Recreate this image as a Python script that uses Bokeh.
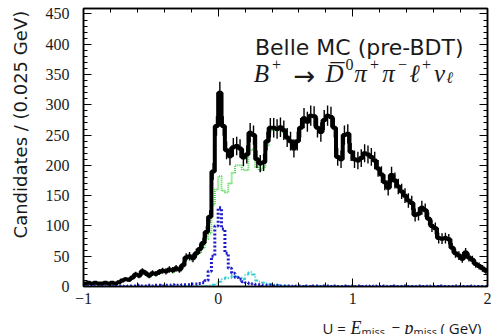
import numpy as np
from bokeh.plotting import figure
from bokeh.layouts import column
from bokeh.models import Range1d, FixedTicker, LinearAxis, Label
from bokeh.embed import file_html
from bokeh.resources import INLINE

# ---------------- data ----------------
U_MIN, U_MAX, BIN_W = -1.0, 2.0, 0.025

total_counts = [5, 6, 5, 6, 5, 5, 6, 5, 6, 5,
                7, 10, 12, 11, 15, 20, 18, 25, 22, 18,
                22, 21, 24, 26, 25, 28, 27, 30, 28, 35,
                48, 50, 47, 55, 62, 72, 90, 115, 190, 265,
                320, 265, 225, 215, 230, 232, 228, 213, 218, 254,
                250, 210, 203, 205, 240, 262, 262, 260, 263, 258,
                246, 240, 228, 240, 262, 278, 272, 282, 281, 262,
                255, 275, 282, 280, 262, 214, 210, 250, 252, 222,
                210, 208, 212, 220, 218, 214, 208, 195, 185, 172,
                163, 184, 175, 165, 157, 150, 142, 138, 118, 120,
                130, 126, 112, 100, 96, 80, 79, 80, 78, 64,
                55, 51, 46, 56, 48, 44, 37, 34, 30, 26]

green_counts = [4, 5, 5, 5, 4, 5, 5, 4, 5, 4,
                6, 9, 11, 10, 14, 19, 16, 24, 21, 16,
                21, 19, 22, 25, 23, 26, 24, 28, 26, 32,
                45, 47, 43, 51, 56, 64, 78, 88, 135, 160,
                182, 158, 155, 170, 188, 200, 200, 193, 192, 225,
                226, 197, 192, 197, 233, 256, 259, 258, 262, 256,
                244, 239, 226, 239, 261, 277, 271, 281, 280, 261,
                254, 274, 281, 279, 261, 213, 209, 249, 251, 221,
                209, 207, 211, 219, 217, 213, 207, 194, 184, 171,
                162, 183, 174, 164, 156, 149, 141, 137, 117, 119,
                129, 125, 111, 99, 95, 79, 78, 79, 77, 63,
                54, 50, 45, 55, 47, 43, 36, 33, 29, 25]

blue_counts = [0, 1, 0, 1, 1, 0, 1, 1, 0, 1,
               1, 1, 0, 1, 1, 1, 2, 1, 1, 2,
               1, 2, 2, 1, 2, 2, 3, 2, 2, 3,
               3, 3, 4, 4, 5, 6, 10, 25, 50, 100,
               130, 95, 55, 30, 22, 15, 12, 8, 6, 5,
               4, 3, 3, 2, 2, 2, 1, 2, 1, 1,
               1, 1, 0, 1, 1, 0, 1, 0, 1, 1,
               0, 1, 1, 0, 1, 0, 0, 1, 0, 1,
               0, 1, 0, 0, 1, 0, 1, 0, 0, 1,
               0, 0, 1, 0, 0, 1, 0, 0, 0, 1,
               0, 0, 1, 0, 0, 0, 1, 0, 0, 0,
               1, 0, 0, 0, 0, 1, 0, 0, 0, 0]

cyan_counts = [0, 0, 0, 0, 0, 0, 0, 0, 0, 0,
               0, 0, 0, 0, 0, 0, 0, 0, 0, 0,
               0, 0, 0, 0, 1, 0, 0, 0, 1, 0,
               0, 1, 0, 1, 0, 1, 1, 2, 3, 5,
               8, 12, 15, 14, 18, 16, 15, 12, 20, 24,
               20, 10, 8, 6, 5, 4, 3, 2, 2, 1,
               1, 1, 1, 0, 1, 1, 0, 1, 0, 1,
               0, 1, 0, 0, 1, 0, 0, 0, 1, 0,
               0, 0, 1, 0, 0, 0, 0, 1, 0, 0,
               0, 0, 0, 1, 0, 0, 0, 0, 0, 0,
               0, 1, 0, 0, 0, 0, 0, 0, 1, 0,
               0, 0, 0, 0, 0, 0, 0, 0, 0, 0]

x_ticks = [-1, 0, 1, 2]
x_tick_labels = ["\u22121", "0", "1", "2"]
y_ticks = [0, 50, 100, 150, 200, 250, 300, 350, 400, 450]
Y_MAX = 459

# ---------------- layout ----------------
W, H = 491, 334
H_MAIN = 310                       # main figure; a 24 px strip below holds the x title
FL, FR, FT, FB = 83, 487, 8, 286   # frame edges in canvas pixels

edges = U_MIN + BIN_W * np.arange(len(total_counts) + 1)
centers = 0.5 * (edges[:-1] + edges[1:])
x_minor = list(np.round(np.arange(U_MIN, U_MAX + 1e-9, 0.2), 3))
y_minor = list(range(0, Y_MAX, 10))

p = figure(width=W, height=H_MAIN, output_backend="svg", toolbar_location=None,
           x_range=Range1d(U_MIN, U_MAX), y_range=Range1d(0, Y_MAX),
           x_axis_location=None, y_axis_location=None,
           min_border_left=FL, min_border_right=W - FR,
           min_border_top=FT, min_border_bottom=H_MAIN - FB)
p.xgrid.visible = False
p.ygrid.visible = False
p.outline_line_color = "black"
p.outline_line_width = 1.5
p.background_fill_color = "white"
p.border_fill_color = "white"

TXT = "#1a1a1a"


def make_axis(ticks, minor, labels=None, standoff=0):
    ax = LinearAxis(ticker=FixedTicker(ticks=ticks, minor_ticks=minor))
    ax.axis_line_color = "black"
    ax.axis_line_width = 1.5
    ax.major_tick_in = 8
    ax.major_tick_out = 0
    ax.minor_tick_in = 4
    ax.minor_tick_out = 0
    ax.major_tick_line_color = "black"
    ax.minor_tick_line_color = "black"
    ax.major_tick_line_width = 1
    ax.minor_tick_line_width = 1
    ax.major_label_text_font = "Liberation Serif"
    ax.major_label_text_color = TXT
    if labels is not None:
        ax.major_label_text_font_size = "16px"
        ax.major_label_standoff = standoff
        ax.major_label_overrides = {t: s for t, s in zip(ticks, labels)}
    else:
        ax.major_label_text_font_size = "1px"
        ax.major_label_standoff = 0
        ax.major_label_overrides = {t: "" for t in ticks}
    return ax


xb = make_axis(x_ticks, x_minor, x_tick_labels, standoff=6)
p.add_layout(xb, "below")
p.add_layout(make_axis(x_ticks, x_minor), "above")
yl = make_axis(y_ticks, y_minor, [str(v) for v in y_ticks], standoff=14)
# y-axis title, shifted toward the top like the reference (leading no-break spaces)
yl.axis_label = "\u00a0" * 8 + "Candidates / (0.025 GeV)"
yl.axis_label_text_font = "DejaVu Sans"
yl.axis_label_text_font_style = "normal"
yl.axis_label_text_font_size = "18px"
yl.axis_label_text_color = TXT
yl.axis_label_standoff = 12
p.add_layout(yl, "left")
p.add_layout(make_axis(y_ticks, y_minor), "right")

# ---------------- histograms ----------------
def stepped(vals):
    return list(vals) + [vals[-1]]

p.step(edges, stepped(green_counts), mode="after", line_color="#4fd64f",
       line_width=2, line_dash="1 1")
p.step(edges, stepped(cyan_counts), mode="after", line_color="#33cccc",
       line_width=2, line_dash="4 2 1 2")
p.step(edges, stepped(blue_counts), mode="after", line_color="#1c1cc8",
       line_width=3, line_dash="2 2")

tot = np.array(total_counts, dtype=float)
err = np.sqrt(tot)
p.segment(centers, tot - err, centers, tot + err, line_color="black", line_width=1.4)
p.step(edges, stepped(total_counts), mode="after", line_color="black", line_width=4)


# ---------------- texts ----------------
def put(fig, text, X, Y, size, font="DejaVu Sans", style="normal", align="left",
        bottom=FB, left=FL):
    # X, Y: page pixel position of the text anchor (alphabetic baseline)
    fig.add_layout(Label(x=X - left, y=bottom - Y, x_units="screen", y_units="screen",
                         text=text, text_font=font, text_font_size=f"{size}px",
                         text_font_style=style, text_align=align,
                         text_baseline="alphabetic", text_color=TXT))


# in-plot title
put(p, "Belle MC (pre-BDT)", 463, 47, 22, align="right")
S = "Liberation Serif"
put(p, "B", 261, 73, 25, font=S, style="italic", align="center")
put(p, "+", 276, 64, 16, font=S, align="center")
put(p, "\u2192", 304, 75, 26, align="center")
put(p, "D", 334, 73, 25, font=S, style="italic", align="center")
put(p, "_", 337, 50, 28, font=S, align="center")
put(p, "0", 349, 64, 16, font=S, align="center")
put(p, "\u03c0", 360, 73, 25, font=S, style="italic", align="center")
put(p, "+", 374, 64, 16, font=S, align="center")
put(p, "\u03c0", 388, 73, 25, font=S, style="italic", align="center")
put(p, "\u2212", 402, 64, 16, font=S, align="center")
put(p, "\u2113", 414, 73, 25, font=S, style="italic", align="center")
put(p, "+", 426, 64, 16, font=S, align="center")
put(p, "\u03bd", 439, 73, 25, font=S, style="italic", align="center")
put(p, "\u2113", 449, 77, 16, font=S, style="italic", align="center")

# strip below the plot for the x-axis title: U = E_miss - p_miss ( GeV)
# (its frame is aligned with the main frame by the column layout: x from FL to FR)
strip = figure(width=W, height=H - H_MAIN, output_backend="svg", toolbar_location=None,
               x_range=Range1d(0, 1), y_range=Range1d(0, 1),
               x_axis_location=None, y_axis_location=None,
               min_border_left=FL, min_border_right=W - FR,
               min_border_top=0, min_border_bottom=0)
strip.xgrid.visible = False
strip.ygrid.visible = False
strip.outline_line_color = None
strip.background_fill_color = "white"
strip.border_fill_color = "white"

OS = "Open Sans"
put(strip, "U =", 322, 327, 15, font=OS, bottom=H)
put(strip, "E", 350, 327, 18, font=S, style="italic", bottom=H)
put(strip, "miss", 361, 331, 11, font=OS, bottom=H)
put(strip, "\u2212", 391, 327, 15, font=OS, bottom=H)
put(strip, "p", 404, 327, 18, font=S, style="italic", bottom=H)
put(strip, "miss", 413, 331, 11, font=OS, bottom=H)
put(strip, "( GeV)", 481, 327, 15, font=OS, align="right", bottom=H)

page = column(p, strip, spacing=0)
open("out.html", "w").write(file_html(page, INLINE))
